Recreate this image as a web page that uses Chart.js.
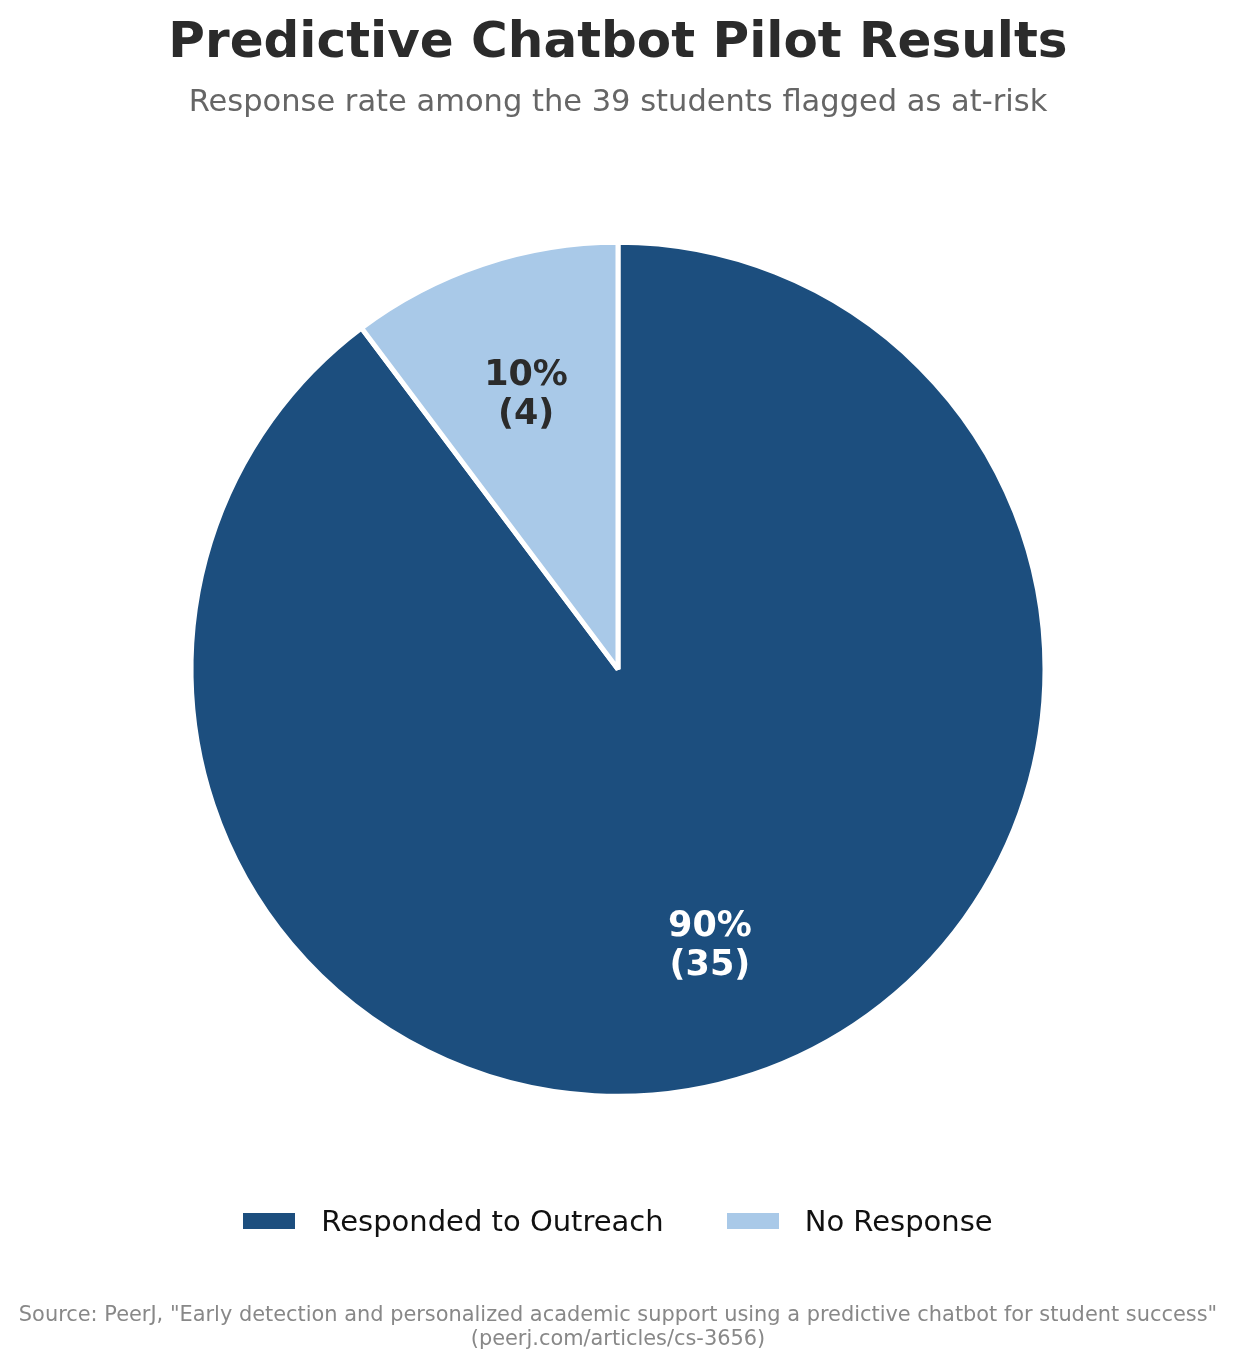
<!DOCTYPE html>
<html>
<head>
<meta charset="utf-8">
<script src="https://cdn.jsdelivr.net/npm/chart.js@4.4.1/dist/chart.umd.min.js"></script>
<style>
    html, body { margin: 0; padding: 0; background: #fff; }
    #wrap { position: relative; width: 1236px; height: 1368px; font-family: "DejaVu Sans", sans-serif; }
    #legend { position: absolute; left: 0; top: 1204px; width: 1236px; display: flex; justify-content: center; font-size: 29px; color: #111; }
    .item { display: flex; align-items: center; margin: 0 31.5px; }
    .swatch { width: 52px; height: 16px; margin-right: 26px; }
    #source { position: absolute; left: 0; top: 1303px; width: 1236px; text-align: center; font-size: 20.9px; line-height: 23.5px; color: #888; }
</style>
</head>
<body>
<div id="wrap">
    <canvas id="pie"></canvas>
    <div id="legend"></div>
    <div id="source">Source: PeerJ, "Early detection and personalized academic support using a predictive chatbot for student success"<br>(peerj.com/articles/cs-3656)</div>
</div>
<script>
const categories = ['Responded to Outreach', 'No Response'];
const counts = [35, 4];
const sliceColors = ['#1c4e7e', '#a9c9e8'];
const labelColors = ['#ffffff', '#2b2b2b'];

const total = counts.reduce((a, b) => a + b, 0);

// percent + count text in each slice
const sliceLabels = {
    id: 'sliceLabels',
    afterDatasetsDraw(chart) {
        const ctx = chart.ctx;
        const meta = chart.getDatasetMeta(0);
        meta.data.forEach((arc, i) => {
            const p = arc.getProps(['x', 'y', 'startAngle', 'endAngle', 'outerRadius']);
            const mid = (p.startAngle + p.endAngle) / 2;
            const r = p.outerRadius * 0.68;
            const x = p.x + Math.cos(mid) * r;
            const y = p.y + Math.sin(mid) * r + 2;
            const pct = Math.round(counts[i] / total * 100);
            ctx.save();
            ctx.font = 'bold 35px "DejaVu Sans"';
            ctx.fillStyle = labelColors[i];
            ctx.textAlign = 'center';
            ctx.textBaseline = 'middle';
            ctx.fillText(pct + '%', x, y - 19.5);
            ctx.fillText('(' + counts[i] + ')', x, y + 19.5);
            ctx.restore();
        });
    }
};

const legend = document.getElementById('legend');
categories.forEach((name, i) => {
    const item = document.createElement('div');
    item.className = 'item';
    item.innerHTML = '<span class="swatch" style="background:' + sliceColors[i] + '"></span><span>' + name + '</span>';
    legend.appendChild(item);
});

const canvas = document.getElementById('pie');
canvas.style.width = '1236px';
canvas.style.height = '1368px';

new Chart(canvas, {
    type: 'pie',
    data: {
        labels: categories,
        datasets: [{
            data: counts,
            backgroundColor: sliceColors,
            borderColor: '#ffffff',
            borderWidth: 5,
            hoverOffset: 0
        }]
    },
    options: {
        responsive: false,
        animation: false,
        radius: 427,
        layout: { padding: { top: 14, bottom: 170, left: 0, right: 0 } },
        plugins: {
            legend: { display: false },
            tooltip: { enabled: false },
            title: {
                display: true,
                text: 'Predictive Chatbot Pilot Results',
                color: '#2b2b2b',
                font: { family: 'DejaVu Sans', size: 50, weight: 'bold' },
                padding: { top: 0, bottom: 0 }
            },
            subtitle: {
                display: true,
                text: 'Response rate among the 39 students flagged as at-risk',
                color: '#666666',
                font: { family: 'DejaVu Sans', size: 30.5 },
                padding: { top: 11, bottom: 19 }
            }
        }
    },
    plugins: [sliceLabels]
});
</script>
</body>
</html>
